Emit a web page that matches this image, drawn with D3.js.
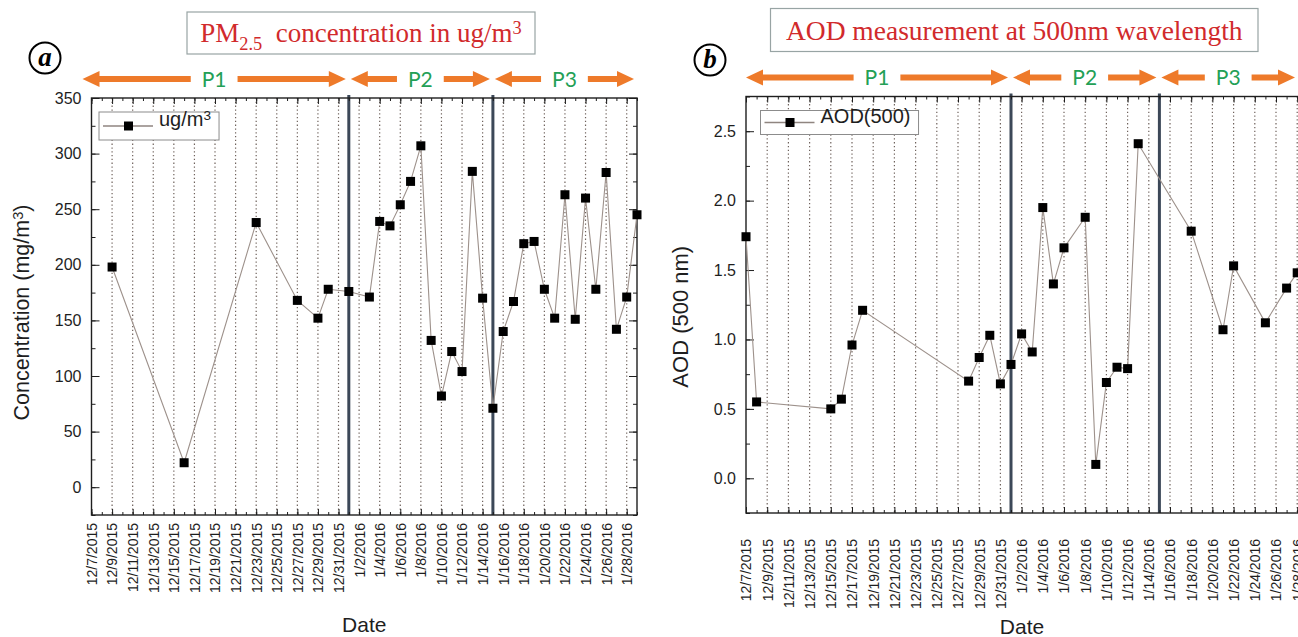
<!DOCTYPE html>
<html>
<head>
<meta charset="utf-8">
<script src="https://cdnjs.cloudflare.com/ajax/libs/d3/7.8.5/d3.min.js"></script>
<style>
    html, body { margin: 0; padding: 0; background: #fff; }
    svg { display: block; font-family: Arial, "Liberation Sans", sans-serif; }
</style>
</head>
<body>
<main></main>
<script>
// x axis: labelled every second day, range runs one day past the last label
var dateLabels = ["12/7/2015", "12/9/2015", "12/11/2015", "12/13/2015", "12/15/2015",
    "12/17/2015", "12/19/2015", "12/21/2015", "12/23/2015", "12/25/2015", "12/27/2015",
    "12/29/2015", "12/31/2015", "1/2/2016", "1/4/2016", "1/6/2016", "1/8/2016",
    "1/10/2016", "1/12/2016", "1/14/2016", "1/16/2016", "1/18/2016", "1/20/2016",
    "1/22/2016", "1/24/2016", "1/26/2016", "1/28/2016"];
var dateRange = ["12/7/2015", "1/29/2016"];

// periods and their boundaries
var periodNames = ["P1", "P2", "P3"];
var periodBounds = ["12/7/2015", "1/1/2016", "1/15/2016", "1/29/2016"];

// (a) PM2.5
var pmDates = ["12/9/2015", "12/16/2015", "12/23/2015", "12/27/2015", "12/29/2015",
    "12/30/2015", "1/1/2016", "1/3/2016", "1/4/2016", "1/5/2016", "1/6/2016", "1/7/2016",
    "1/8/2016", "1/9/2016", "1/10/2016", "1/11/2016", "1/12/2016", "1/13/2016",
    "1/14/2016", "1/15/2016", "1/16/2016", "1/17/2016", "1/18/2016", "1/19/2016",
    "1/20/2016", "1/21/2016", "1/22/2016", "1/23/2016", "1/24/2016", "1/25/2016",
    "1/26/2016", "1/27/2016", "1/28/2016", "1/29/2016"];
var pmValues = [198, 22, 238, 168, 152, 178, 176, 171, 239, 235, 254, 275, 307, 132, 82,
    122, 104, 284, 170, 71, 140, 167, 219, 221, 178, 152, 263, 151, 260, 178, 283, 142,
    171, 245];
var pmTicks = [0, 50, 100, 150, 200, 250, 300, 350];

// (b) AOD at 500 nm
var aodDates = ["12/7/2015", "12/8/2015", "12/15/2015", "12/16/2015", "12/17/2015",
    "12/18/2015", "12/28/2015", "12/29/2015", "12/30/2015", "12/31/2015", "1/1/2016",
    "1/2/2016", "1/3/2016", "1/4/2016", "1/5/2016", "1/6/2016", "1/8/2016", "1/9/2016",
    "1/10/2016", "1/11/2016", "1/12/2016", "1/13/2016", "1/18/2016", "1/21/2016",
    "1/22/2016", "1/25/2016", "1/27/2016", "1/28/2016"];
var aodValues = [1.74, 0.55, 0.50, 0.57, 0.96, 1.21, 0.70, 0.87, 1.03, 0.68, 0.82, 1.04,
    0.91, 1.95, 1.40, 1.66, 1.88, 0.10, 0.69, 0.80, 0.79, 2.41, 1.78, 1.07, 1.53, 1.12,
    1.37, 1.48];
var aodTicks = [0, 0.5, 1.0, 1.5, 2.0, 2.5];

(function () {

    var parseDate = d3.timeParse("%m/%d/%Y"),
        svg = d3.select("main")
            .append("svg")
            .attr("width", 1298)
            .attr("height", 637),
        ink = "#1e1e1e",
        orange = "#ee7a2a",
        green = "#23a056";

    var arrowShape = function (xTip, xEnd, yc) {
        // xTip is the point, xEnd the tail; works both directions
        var s = xEnd > xTip ? 1 : -1,
            hl = 17, hh = 8, sh = 3,
            xb = xTip + s*hl;
        return d3.line()([[xTip, yc], [xb, yc - hh], [xb, yc - sh], [xEnd, yc - sh],
            [xEnd, yc + sh], [xb, yc + sh], [xb, yc + hh]]) + "Z";
    };

    var addParts = function (text, parts, size) {
        // parts: [string, shift] with shift 1 = subscript, -1 = superscript
        var prev = 0;
        parts.forEach(function (p) {
            var dy = p[1]*size*0.3 - prev*size*0.3;
            text.append("tspan")
                .attr("dy", dy)
                .attr("font-size", p[1] === 0 ? size : size*0.68)
                .text(p[0]);
            prev = p[1];
        });
    };

    var Panel = function (p) {
        var g = svg.append("g"),
            x = d3.scaleTime()
                .domain(dateRange.map(parseDate))
                .range([p.left, p.right]),
            y = d3.scaleLinear()
                .domain(p.yDomain)
                .range([p.bottom, p.top]),
            labelDates = dateLabels.map(parseDate),
            days = d3.timeDay.range(x.domain()[0], d3.timeDay.offset(x.domain()[1], 1)),
            bounds = periodBounds.map(parseDate),
            points = p.dates.map(function (d, i) {
                return {date: parseDate(d), value: p.values[i]};
            });

        // dotted date grid
        g.append("g").selectAll("line")
            .data(labelDates.slice(1))
            .join("line")
            .attr("x1", function (d) { return x(d); })
            .attr("x2", function (d) { return x(d); })
            .attr("y1", p.top)
            .attr("y2", p.bottom)
            .attr("stroke", "#6f625c")
            .attr("stroke-width", 1.2)
            .attr("stroke-dasharray", "1.3,2.5");

        // period separators
        g.append("g").selectAll("line")
            .data(bounds.slice(1, -1))
            .join("line")
            .attr("x1", function (d) { return x(d); })
            .attr("x2", function (d) { return x(d); })
            .attr("y1", p.top - 3)
            .attr("y2", p.bottom)
            .attr("stroke", "#3c4858")
            .attr("stroke-width", 3);

        // frame
        g.append("rect")
            .attr("x", p.left)
            .attr("y", p.top)
            .attr("width", p.right - p.left)
            .attr("height", p.bottom - p.top)
            .attr("fill", "none")
            .attr("stroke", ink)
            .attr("stroke-width", 1.4);

        var noDomain = function (a) {
            a.select(".domain").remove();
            a.selectAll(".tick line").attr("stroke", ink);
        };

        // x ticks, inward on bottom and top
        g.append("g")
            .attr("transform", "translate(0," + p.bottom + ")")
            .call(d3.axisBottom(x).tickValues(days).tickSize(-3).tickFormat(""))
            .call(noDomain);
        g.append("g")
            .attr("transform", "translate(0," + p.top + ")")
            .call(d3.axisTop(x).tickValues(days).tickSize(-3).tickFormat(""))
            .call(noDomain);
        g.append("g")
            .attr("transform", "translate(0," + p.top + ")")
            .call(d3.axisTop(x).tickValues(labelDates).tickSize(-6).tickFormat(""))
            .call(noDomain);
        var xAxis = g.append("g")
            .attr("transform", "translate(0," + p.bottom + ")")
            .call(d3.axisBottom(x)
                .tickValues(labelDates)
                .tickSize(-6)
                .tickFormat(function (d, i) { return dateLabels[i]; }))
            .call(noDomain);
        xAxis.selectAll("text")
            .attr("transform", "rotate(-90)")
            .attr("text-anchor", "end")
            .attr("x", -p.xLabelGap)
            .attr("y", 0)
            .attr("dy", "0.35em")
            .attr("font-size", 14)
            .attr("fill", ink);

        // y ticks, inward
        var yMinor = d3.range(p.yDomain[0], p.yDomain[1] + p.yMinor/2, p.yMinor);
        g.append("g")
            .attr("transform", "translate(" + p.left + ",0)")
            .call(d3.axisLeft(y).tickValues(yMinor).tickSize(-4).tickFormat(""))
            .call(noDomain);
        g.append("g")
            .attr("transform", "translate(" + p.left + ",0)")
            .call(d3.axisLeft(y)
                .tickValues(p.yTicks)
                .tickSize(-8)
                .tickPadding(10)
                .tickFormat(p.yFormat))
            .call(noDomain)
            .selectAll("text")
            .attr("font-size", 16)
            .attr("fill", ink);
        g.append("g")
            .attr("transform", "translate(" + p.right + ",0)")
            .call(d3.axisRight(y).tickValues(yMinor).tickSize(-4).tickFormat(""))
            .call(noDomain);
        g.append("g")
            .attr("transform", "translate(" + p.right + ",0)")
            .call(d3.axisRight(y).tickValues(p.yTicks).tickSize(-8).tickFormat(""))
            .call(noDomain);

        // series
        g.append("path")
            .datum(points)
            .attr("fill", "none")
            .attr("stroke", "#9d918b")
            .attr("stroke-width", 1.1)
            .attr("d", d3.line()
                .x(function (d) { return x(d.date); })
                .y(function (d) { return y(d.value); }));
        g.append("g").selectAll("rect")
            .data(points)
            .join("rect")
            .attr("x", function (d) { return x(d.date) - 4.5; })
            .attr("y", function (d) { return y(d.value) - 4.5; })
            .attr("width", 9)
            .attr("height", 9)
            .attr("fill", "#000");

        // legend
        var lg = g.append("g")
                .attr("transform", "translate(" + (p.left + p.legendDx) + "," + (p.top + 14) + ")"),
            lbox = lg.append("rect")
                .attr("fill", "#fff")
                .attr("stroke", "#8c8c8c")
                .attr("stroke-width", 1),
            ly = p.legendH/2;
        lg.append("line")
            .attr("x1", 4).attr("x2", 54)
            .attr("y1", ly).attr("y2", ly)
            .attr("stroke", "#8f8580")
            .attr("stroke-width", 1.3);
        lg.append("rect")
            .attr("x", 25).attr("y", ly - 4.5)
            .attr("width", 9).attr("height", 9)
            .attr("fill", "#000");
        var lt = lg.append("text")
            .attr("x", 60)
            .attr("y", ly)
            .attr("dy", "0.36em")
            .attr("fill", ink);
        addParts(lt, p.legend, 20);
        lbox.attr("width", 60 + lt.node().getComputedTextLength() + 8)
            .attr("height", p.legendH);

        // period arrows
        var ay = p.top - 19;
        periodNames.forEach(function (name, i) {
            var x0 = x(bounds[i]) + (i === 0 ? p.arrowLead : 2),
                x1 = Math.min(x(bounds[i + 1]) - 3, p.arrowMax),
                xm = (x0 + x1)/2,
                t = g.append("text")
                    .attr("x", xm)
                    .attr("y", ay)
                    .attr("dy", "0.36em")
                    .attr("text-anchor", "middle")
                    .attr("font-family", "Lato, 'Open Sans', sans-serif")
                    .attr("font-size", 21)
                    .attr("fill", green)
                    .text(name),
                half = t.node().getComputedTextLength()/2 + p.arrowGap;
            g.append("path")
                .attr("d", arrowShape(x0, xm - half, ay))
                .attr("fill", orange);
            g.append("path")
                .attr("d", arrowShape(x1, xm + half, ay))
                .attr("fill", orange);
        });

        // title box
        var tb = p.titleBox;
        g.append("rect")
            .attr("x", tb[0]).attr("y", tb[1])
            .attr("width", tb[2] - tb[0]).attr("height", tb[3] - tb[1])
            .attr("fill", "#fff")
            .attr("stroke", "#98a4a4")
            .attr("stroke-width", 1.2);
        var tt = g.append("text")
            .attr("x", (tb[0] + tb[2])/2)
            .attr("y", tb[3] - 12)
            .attr("text-anchor", "middle")
            .attr("font-family", "'Liberation Serif', 'Times New Roman', serif")
            .attr("fill", "#d12a2c");
        addParts(tt, p.title, p.titleSize);

        // panel letter
        g.append("circle")
            .attr("cx", p.letterAt[0]).attr("cy", p.letterAt[1])
            .attr("r", 15.5)
            .attr("fill", "#fff")
            .attr("stroke", "#000")
            .attr("stroke-width", 2);
        g.append("text")
            .attr("x", p.letterAt[0]).attr("y", p.letterAt[1])
            .attr("dy", "0.3em")
            .attr("text-anchor", "middle")
            .attr("font-family", "'Liberation Serif', 'Times New Roman', serif")
            .attr("font-weight", "bold")
            .attr("font-style", "italic")
            .attr("font-size", 27)
            .text(p.letter);

        // axis titles
        g.append("text")
            .attr("x", (p.left + Math.min(p.right, 1298))/2 + p.dateDx)
            .attr("y", p.dateY)
            .attr("text-anchor", "middle")
            .attr("font-size", 21)
            .attr("fill", ink)
            .text("Date");
        var yt = g.append("text")
            .attr("transform", "translate(" + p.yTitleX + "," + ((p.top + p.bottom)/2 + p.yTitleDy) + ") rotate(-90)")
            .attr("text-anchor", "middle")
            .attr("fill", ink);
        addParts(yt, p.yTitle, p.yTitleSize);

        return g;
    };

    var panelA = Panel({
            left: 91.5, right: 637, top: 98, bottom: 515,
            dates: pmDates, values: pmValues,
            yDomain: [-25, 350], yTicks: pmTicks, yMinor: 25,
            yFormat: d3.format("d"),
            xLabelGap: 8,
            legend: [["ug/m", 0], ["3", -1]], legendDx: 7.5, legendH: 28,
            arrowGap: 11, arrowLead: -9, arrowMax: 2000,
            titleBox: [187, 12, 535, 54], titleSize: 27,
            title: [["PM", 0], ["2.5", 1], ["\u00a0 concentration in ug/m", 0], ["3", -1]],
            letter: "a", letterAt: [45, 58],
            dateY: 632, dateDx: 0,
            yTitle: [["Concentration (mg/m", 0], ["3", -1], [")", 0]],
            yTitleX: 29, yTitleSize: 21.5, yTitleDy: 6
        }),
        panelB = Panel({
            left: 746, right: 1307.8, top: 96.5, bottom: 513,
            dates: aodDates, values: aodValues,
            yDomain: [-0.25, 2.75], yTicks: aodTicks, yMinor: 0.25,
            yFormat: d3.format(".1f"),
            xLabelGap: 26,
            legend: [["AOD(500)", 0]], legendDx: 14.5, legendH: 24,
            arrowGap: 11, arrowLead: 0, arrowMax: 1295,
            titleBox: [770.5, 8.5, 1258, 51.5], titleSize: 27.5,
            title: [["AOD measurement at 500nm wavelength", 0]],
            letter: "b", letterAt: [710, 60],
            dateY: 634, dateDx: 0,
            yTitle: [["AOD (500 nm)", 0]],
            yTitleX: 688, yTitleSize: 22, yTitleDy: 12
        });

})();
</script>
</body>
</html>
